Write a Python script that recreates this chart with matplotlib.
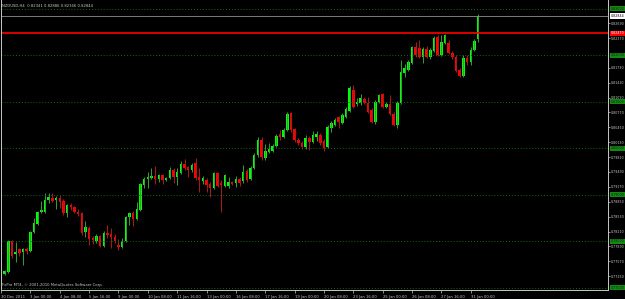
from matplotlib import pyplot as plt
from matplotlib import transforms
import numpy as np

# NZDUSD H4 candles, first one is the partial bar at the left edge
opens = [0.7738, 0.7730, 0.7734, 0.7801, 0.7773, 0.7784, 0.7777, 0.7784, 0.7779, 0.7820,
         0.7837, 0.7863, 0.7863, 0.7889, 0.7893, 0.7889, 0.7893, 0.7887, 0.7861, 0.7878,
         0.7874, 0.7863, 0.7861, 0.7820, 0.7829, 0.7807, 0.7801, 0.7811, 0.7790, 0.7818,
         0.7816, 0.7809, 0.7792, 0.7788, 0.7801, 0.7852, 0.7861, 0.7848, 0.7867, 0.7921,
         0.7934, 0.7936, 0.7940, 0.7934, 0.7943, 0.7932, 0.7936, 0.7953, 0.7938, 0.7947,
         0.7966, 0.7960, 0.7953, 0.7968, 0.7938, 0.7930, 0.7932, 0.7923, 0.7915, 0.7947,
         0.7925, 0.7919, 0.7919, 0.7928, 0.7925, 0.7934, 0.7930, 0.7951, 0.7934, 0.7958,
         0.7986, 0.8018, 0.7979, 0.7992, 0.7994, 0.8005, 0.8031, 0.8024, 0.8039, 0.8076,
         0.8041, 0.8018, 0.8011, 0.8003, 0.8022, 0.8014, 0.8024, 0.8029, 0.8016, 0.8003,
         0.8044, 0.8050, 0.8067, 0.8054, 0.8067, 0.8080, 0.8125, 0.8095, 0.8097, 0.8106,
         0.8097, 0.8082, 0.8057, 0.8100, 0.8117, 0.8089, 0.8095, 0.8074, 0.8050, 0.8097,
         0.8162, 0.8168, 0.8183, 0.8218, 0.8216, 0.8196, 0.8214, 0.8196, 0.8209, 0.8239,
         0.8201, 0.8226, 0.8226, 0.8205, 0.8196, 0.8168, 0.8155, 0.8194, 0.8186, 0.8211,
         0.82341]
highs = [0.7743, 0.7738, 0.7803, 0.7803, 0.7799, 0.7786, 0.7786, 0.7788, 0.7822, 0.7850,
         0.7865, 0.7887, 0.7904, 0.7904, 0.7904, 0.7897, 0.7900, 0.7891, 0.7880, 0.7882,
         0.7876, 0.7870, 0.7863, 0.7844, 0.7833, 0.7811, 0.7816, 0.7814, 0.7822, 0.7835,
         0.7829, 0.7816, 0.7805, 0.7807, 0.7854, 0.7863, 0.7865, 0.7885, 0.7925, 0.7938,
         0.7949, 0.7958, 0.7962, 0.7945, 0.7945, 0.7938, 0.7960, 0.7958, 0.7958, 0.7973,
         0.7977, 0.7962, 0.7968, 0.7979, 0.7958, 0.7940, 0.7936, 0.7928, 0.7949, 0.7949,
         0.7932, 0.7945, 0.7938, 0.7930, 0.7940, 0.7938, 0.7964, 0.7955, 0.7962, 0.7990,
         0.8024, 0.8024, 0.8009, 0.8011, 0.8009, 0.8031, 0.8039, 0.8044, 0.8078, 0.8078,
         0.8044, 0.8022, 0.8016, 0.8029, 0.8026, 0.8037, 0.8037, 0.8033, 0.8020, 0.8050,
         0.8059, 0.8065, 0.8069, 0.8076, 0.8089, 0.8134, 0.8136, 0.8108, 0.8117, 0.8110,
         0.8110, 0.8087, 0.8104, 0.8117, 0.8119, 0.8100, 0.8115, 0.8078, 0.8102, 0.8190,
         0.8181, 0.8190, 0.8220, 0.8228, 0.8233, 0.8218, 0.8220, 0.8216, 0.8241, 0.8243,
         0.8243, 0.8246, 0.8233, 0.8209, 0.8201, 0.8173, 0.8201, 0.8201, 0.8218, 0.8235,
         0.82886]
lows = [0.7717, 0.7728, 0.7732, 0.7764, 0.7756, 0.7768, 0.7749, 0.7773, 0.7777, 0.7818,
        0.7835, 0.7861, 0.7861, 0.7882, 0.7885, 0.7870, 0.7872, 0.7857, 0.7852, 0.7867,
        0.7861, 0.7854, 0.7814, 0.7809, 0.7792, 0.7794, 0.7796, 0.7788, 0.7788, 0.7807,
        0.7786, 0.7796, 0.7781, 0.7786, 0.7799, 0.7835, 0.7833, 0.7846, 0.7865, 0.7915,
        0.7915, 0.7934, 0.7923, 0.7928, 0.7923, 0.7930, 0.7934, 0.7925, 0.7921, 0.7945,
        0.7953, 0.7938, 0.7949, 0.7932, 0.7906, 0.7923, 0.7906, 0.7895, 0.7912, 0.7917,
        0.7863, 0.7917, 0.7915, 0.7921, 0.7917, 0.7919, 0.7925, 0.7928, 0.7932, 0.7955,
        0.7981, 0.7975, 0.7975, 0.7990, 0.7992, 0.8003, 0.8018, 0.8022, 0.8037, 0.8035,
        0.8014, 0.8007, 0.7998, 0.7998, 0.7996, 0.8011, 0.8016, 0.8007, 0.7994, 0.8001,
        0.8035, 0.8048, 0.8044, 0.8052, 0.8065, 0.8078, 0.8087, 0.8091, 0.8093, 0.8095,
        0.8076, 0.8054, 0.8052, 0.8097, 0.8087, 0.8087, 0.8072, 0.8048, 0.8044, 0.8095,
        0.8153, 0.8166, 0.8181, 0.8196, 0.8194, 0.8183, 0.8194, 0.8192, 0.8207, 0.8198,
        0.8198, 0.8224, 0.8203, 0.8192, 0.8164, 0.8153, 0.8153, 0.8179, 0.8179, 0.8209,
        0.8228]
closes = [0.7721, 0.7736, 0.7801, 0.7768, 0.7777, 0.7775, 0.7784, 0.7779, 0.7820, 0.7839,
          0.7863, 0.7867, 0.7889, 0.7895, 0.7887, 0.7893, 0.7885, 0.7861, 0.7878, 0.7874,
          0.7863, 0.7859, 0.7818, 0.7831, 0.7805, 0.7803, 0.7811, 0.7790, 0.7818, 0.7814,
          0.7809, 0.7801, 0.7788, 0.7801, 0.7852, 0.7861, 0.7848, 0.7870, 0.7923, 0.7934,
          0.7938, 0.7940, 0.7934, 0.7943, 0.7932, 0.7936, 0.7953, 0.7938, 0.7949, 0.7966,
          0.7958, 0.7953, 0.7964, 0.7936, 0.7932, 0.7936, 0.7921, 0.7915, 0.7947, 0.7919,
          0.7921, 0.7943, 0.7928, 0.7923, 0.7934, 0.7925, 0.7949, 0.7932, 0.7958, 0.7986,
          0.8018, 0.7981, 0.7994, 0.7998, 0.8005, 0.8026, 0.8024, 0.8039, 0.8074, 0.8039,
          0.8018, 0.8011, 0.8003, 0.8022, 0.8014, 0.8029, 0.8031, 0.8011, 0.8001, 0.8046,
          0.8054, 0.8061, 0.8057, 0.8072, 0.8084, 0.8130, 0.8089, 0.8100, 0.8108, 0.8097,
          0.8078, 0.8057, 0.8100, 0.8115, 0.8089, 0.8095, 0.8074, 0.8050, 0.8097, 0.8164,
          0.8173, 0.8186, 0.8218, 0.8201, 0.8196, 0.8214, 0.8196, 0.8211, 0.8237, 0.8201,
          0.8228, 0.8243, 0.8205, 0.8196, 0.8166, 0.8155, 0.8194, 0.8186, 0.8211, 0.8231,
          0.82844]

time_labels = ["30 Dec 2011", "3 Jan 00:00", "4 Jan 08:00", "5 Jan 16:00", "9 Jan 00:00",
               "10 Jan 08:00", "11 Jan 16:00", "13 Jan 00:00", "16 Jan 08:00", "17 Jan 16:00",
               "19 Jan 00:00", "20 Jan 08:00", "23 Jan 16:00", "25 Jan 00:00", "26 Jan 08:00",
               "27 Jan 16:00", "31 Jan 00:00"]
price_labels = [0.82690, 0.82370, 0.81730, 0.81410, 0.81090, 0.80770, 0.80450, 0.80130,
                0.79810, 0.79490, 0.79170, 0.78850, 0.78530, 0.78210, 0.77890, 0.77570, 0.77250]
round_levels = [0.83, 0.82, 0.81, 0.80, 0.79, 0.78, 0.77]
red_level = 0.82470
bid = 0.82844

FS = 2.7
FS_PRICE = 2.3
GRAY = "#c8c8c8"


def plot_candles(ax):
    x = np.arange(len(opens)) - 1
    o = np.array(opens)
    c = np.array(closes)
    up = c >= o
    # wicks
    ax.vlines(x[up], np.array(lows)[up], np.array(highs)[up], color="#33a033", lw=0.7)
    ax.vlines(x[~up], np.array(lows)[~up], np.array(highs)[~up], color="#b01818", lw=0.7)
    # bodies
    bottom = np.minimum(o, c)
    height = np.maximum(np.abs(c - o), 0.00006)
    ax.bar(x[up], height[up], bottom=bottom[up], width=0.68, color="#00ff00", linewidth=0)
    ax.bar(x[~up], height[~up], bottom=bottom[~up], width=0.68, color="#ff0000", linewidth=0)


def plot_levels(ax):
    trans = transforms.blended_transform_factory(ax.transAxes, ax.transData)
    for lv in round_levels:
        ax.axhline(lv, color="#0f6a0f", lw=0.7, linestyle=(0, (1, 2)))
        ax.text(1.004, lv, "%.5f" % lv, transform=trans, fontsize=FS_PRICE, color="#0a2a0a",
                va="center", ha="left", clip_on=False,
                bbox=dict(boxstyle="square,pad=0.2", fc="#138a13", ec="none"))
    ax.axhline(red_level, color="#ff0000", lw=1.2)
    ax.text(1.004, red_level, "%.5f" % red_level, transform=trans, fontsize=FS_PRICE, color="white",
            va="center", ha="left", clip_on=False,
            bbox=dict(boxstyle="square,pad=0.2", fc="#ff0000", ec="none"))
    ax.axhline(bid, color="#8c8c8c", lw=0.6)
    ax.text(1.004, bid, "%.5f" % bid, transform=trans, fontsize=FS_PRICE, color="black",
            va="center", ha="left", clip_on=False,
            bbox=dict(boxstyle="square,pad=0.2", fc="white", ec="none"))


fig = plt.figure(figsize=(6.25, 2.99), dpi=100, facecolor="black")
ax = fig.add_axes([1 / 625, 9 / 299, 607 / 625, 290 / 299])
ax.set_facecolor("black")

plot_candles(ax)
plot_levels(ax)

ax.set_xlim(-1.01, 164.4)
ax.set_ylim(0.76953, 0.83188)

# time axis, one label every 8 bars
ax.set_xticks(np.arange(len(time_labels)) * 8 - 1)
ax.set_xticklabels(time_labels, fontsize=FS, color=GRAY, ha="left")
ax.tick_params(axis="x", direction="out", length=2.5, width=0.5, color=GRAY, pad=1)

# price axis on the right
ax.yaxis.tick_right()
ax.set_yticks(price_labels)
ax.set_yticklabels(["%.5f" % p for p in price_labels], fontsize=FS_PRICE, color=GRAY)
ax.tick_params(axis="y", direction="out", length=1.2, width=0.5, color=GRAY, pad=0.6)

for side in ["left", "right", "bottom"]:
    ax.spines[side].set_color(GRAY)
    ax.spines[side].set_linewidth(0.7)
ax.spines["top"].set_visible(False)

ax.text(0.002, 0.985, "NZDUSD,H4  0.82341 0.82886 0.82346 0.82844", transform=ax.transAxes,
        fontsize=FS, color=GRAY, va="top", ha="left")
ax.text(0.002, 0.012, "FxPro MT4, \u00a9 2001-2010 MetaQuotes Software Corp.", transform=ax.transAxes,
        fontsize=FS, color=GRAY, va="bottom", ha="left")

fig.savefig("out.png", dpi=100, facecolor="black")
